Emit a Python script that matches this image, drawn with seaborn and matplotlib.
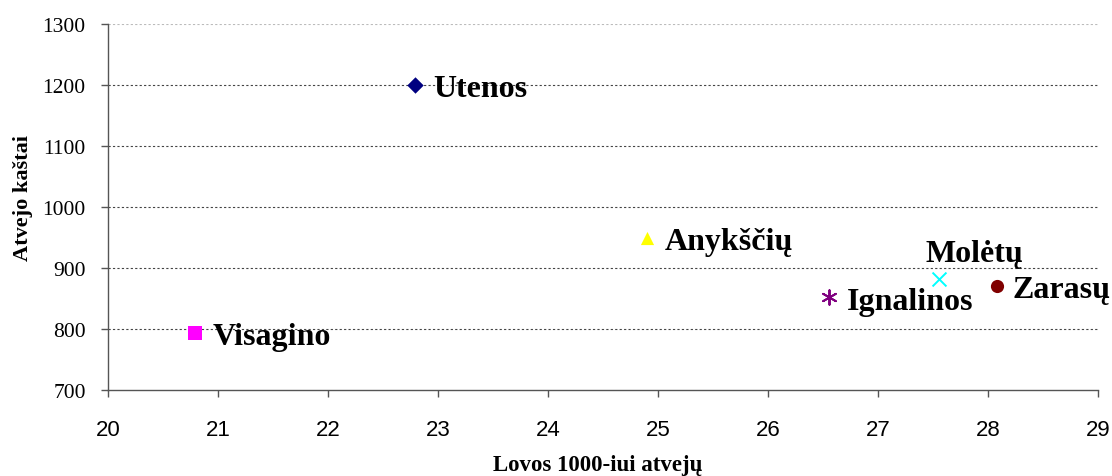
import matplotlib
matplotlib.use("Agg")
import matplotlib.pyplot as plt
import seaborn as sns
import pandas as pd

# Hospital districts: beds per 1000 cases vs. cost per case
districts = ["Utenos", "Visagino", "Anykščių", "Ignalinos", "Molėtų", "Zarasų"]
beds = [22.79, 20.79, 24.9, 26.55, 27.55, 28.08]
costs = [1200, 793, 950, 853, 882, 871]

colors = ["#000080", "#FF00FF", "#FFFF00", "#800080", "#00FFFF", "#800000"]
markers = ["D", "s", "^", (6, 2, 0), "x", "o"]
sizes = [70, 90, 90, 110, 100, 90]
# label offsets in points (dx, dy): text baseline relative to the marker
offsets = [(13, -8), (13, -8), (13, -8), (13, -9), (-9, 13), (11, -8)]

sns.set_theme(style="white")
plt.rcParams["font.family"] = ["Liberation Serif", "DejaVu Serif"]
for key in ("text.color", "axes.labelcolor", "xtick.labelcolor", "ytick.labelcolor"):
    plt.rcParams[key] = "black"

df = pd.DataFrame({"district": districts, "beds": beds, "cost": costs})

fig, ax = plt.subplots(figsize=(11.12, 4.77), dpi=100)
fig.subplots_adjust(left=108 / 1112, right=1098 / 1112,
                    top=1 - 25 / 477, bottom=1 - 391 / 477)

for i, row in df.iterrows():
    sub = df.iloc[[i]]
    line_art = markers[i] in ("x", (6, 2, 0))
    sns.scatterplot(data=sub, x="beds", y="cost", ax=ax, color=colors[i],
                    marker=markers[i], s=sizes[i],
                    linewidth=1.4 if line_art else 0,
                    edgecolor=colors[i], legend=False, zorder=3)
    dx, dy = offsets[i]
    ax.annotate(row["district"], (row["beds"], row["cost"]),
                xytext=(dx, dy), textcoords="offset points",
                ha="left", va="baseline", fontsize=23, fontweight="bold",
                color="black", family=["Liberation Serif", "DejaVu Serif"],
                zorder=4)

ax.set_xlim(20, 29)
ax.set_ylim(700, 1300)
ax.set_xticks(range(20, 30))
ax.set_yticks(range(700, 1301, 100))

for y in range(800, 1301, 100):
    ax.axhline(y, color="#444444" if y < 1300 else "#bbbbbb",
               linestyle=(0, (2, 2)), linewidth=0.8, zorder=1)

for lab in ax.get_xticklabels():
    lab.set_family(["Liberation Sans", "DejaVu Sans"])
    lab.set_fontsize(16)
for lab in ax.get_yticklabels():
    lab.set_family(["Liberation Serif", "DejaVu Serif"])
    lab.set_fontsize(15.5)

ax.tick_params(axis="both", which="major", direction="out", length=5,
               width=1, color="#555555", left=True, bottom=True)
ax.tick_params(axis="x", pad=16)
ax.tick_params(axis="y", pad=11)

for side in ("top", "right"):
    ax.spines[side].set_visible(False)
for side in ("left", "bottom"):
    ax.spines[side].set_color("#555555")
    ax.spines[side].set_linewidth(1)

ax.set_xlabel("Lovos 1000-iui atvejų", fontsize=16.5, fontweight="bold")
ax.set_ylabel("Atvejo kaštai", fontsize=16, fontweight="bold")
ax.xaxis.set_label_coords((598 - 108) / 990, (391 - 455) / 366)
ax.yaxis.set_label_coords((33 - 108) / 990, (391 - 198) / 366)

fig.savefig("out.png", dpi=100)
